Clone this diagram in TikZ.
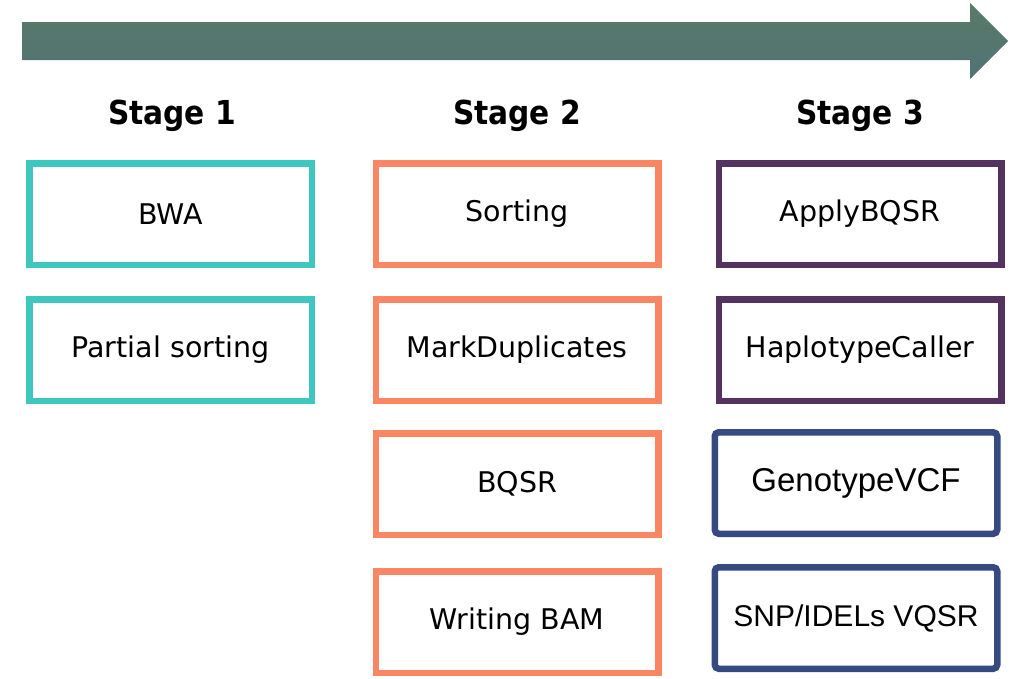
\documentclass[tikz,border=0pt]{standalone}
\usepackage{fontspec}
\usetikzlibrary{positioning}
\setmainfont{DejaVu Sans}
\newfontfamily\condfont{DejaVu Sans Condensed}
\newfontfamily\arialfont{Liberation Sans}
\definecolor{flowgreen}{RGB}{88,123,102}
\definecolor{flowblue}{RGB}{82,114,118}
\definecolor{stageteal}{RGB}{62,198,192}
\definecolor{stageorange}{RGB}{250,134,100}
\definecolor{stagepurple}{RGB}{84,50,96}
\definecolor{stagenavy}{RGB}{52,74,128}

\tikzset{
  stagebox/.style={draw=#1, line width=6.5, minimum width=282.5, minimum height=101.5,
    inner sep=0pt, font=\fontsize{28.5}{32}\selectfont},
  stagetitle/.style={font=\condfont\bfseries\fontsize{33}{38}\selectfont},
}

\begin{document}
\begin{tikzpicture}[x=1pt, y=-1pt]
    \useasboundingbox (0,0) rectangle (1018,678);

    % Zeitachse
    \shade[top color=flowgreen, bottom color=flowblue]
      (22,22) -- (970,22) -- (970,3) -- (1008,41) -- (970,79) -- (970,60) -- (22,60) -- cycle;

    % Stufen
    \node[stagetitle] (st1) at (172,116) {Stage 1};
    \node[stagetitle] (st2) at (517,116) {Stage 2};
    \node[stagetitle] (st3) at (860,116) {Stage 3};

    % Stufe 1
    \node[stagebox=stageteal] (bwa) at (170.5,214) {BWA};
    \node[stagebox=stageteal] (psort) at (170.5,350) {Partial sorting};

    % Stufe 2
    \node[stagebox=stageorange] (sort) at (517,214) {Sorting};
    \node[stagebox=stageorange] (mdup) at (517,350) {MarkDuplicates};
    \node[stagebox=stageorange] (bqsr) at (517,484) {BQSR};
    \node[stagebox=stageorange] (wbam) at (517,622) {Writing BAM};

    % Stufe 3
    \node[stagebox=stagepurple] (apply) at (860,214) {ApplyBQSR};
    \node[stagebox=stagepurple] (hapc) at (860,350) {HaplotypeCaller};
    \node[stagebox=stagenavy, rounded corners=4, font=\arialfont\fontsize{33}{38}\selectfont] (gvcf) at (856,483) {GenotypeVCF};
    \node[stagebox=stagenavy, rounded corners=4, font=\arialfont\fontsize{30}{34}\selectfont] (vqsr) at (856,618) {SNP/IDELs VQSR};
\end{tikzpicture}
\end{document}
